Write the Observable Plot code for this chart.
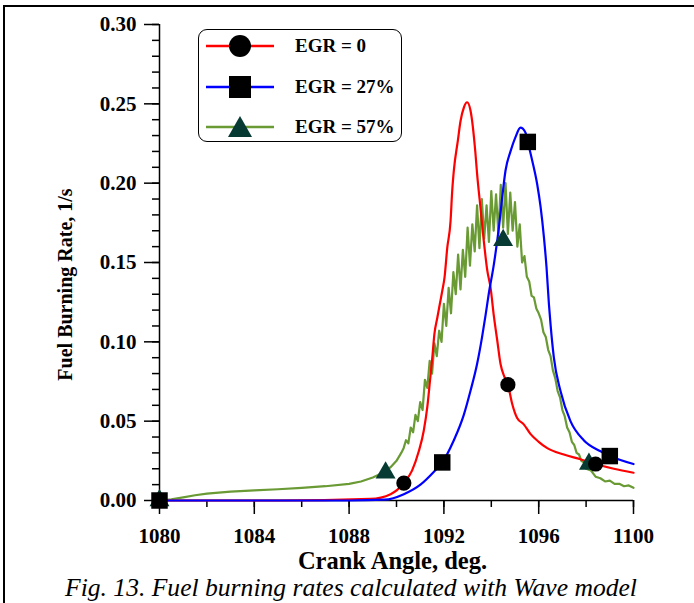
<!DOCTYPE html>
<html><head><meta charset="utf-8">
<script src="https://cdn.jsdelivr.net/npm/d3@7"></script>
<script src="https://cdn.jsdelivr.net/npm/@observablehq/plot@0.6"></script>
<style>
html,body{margin:0;padding:0;background:#fff;}
body{width:694px;height:603px;overflow:hidden;position:relative;font-family:"Liberation Serif","Times New Roman",serif;}
#frame{position:absolute;left:3px;top:5px;width:760px;height:700px;border:2px solid #000;pointer-events:none;}
#chart{position:absolute;left:0;top:0;}
#caption{position:absolute;left:0;top:572px;width:702px;height:31px;line-height:31px;text-align:center;font-style:italic;font-size:25.6px;white-space:nowrap;}
#legend{position:absolute;left:198px;top:29px;width:202px;height:111px;border:1.5px solid #000;border-radius:9px;background:#fff;}
.row{position:absolute;left:0;width:202px;height:40px;}
.row svg{position:absolute;left:0;top:0;}
.row span{position:absolute;left:96px;top:0;line-height:40px;font-size:19px;font-weight:bold;white-space:nowrap;}
</style></head>
<body>
<div id="chart"></div>
<div id="caption">Fig. 13. Fuel burning rates calculated with Wave model</div>
<div id="legend"></div>
<div id="frame"></div>
<script>
// ---- data ----
const seriesNames = ["EGR = 0", "EGR = 27%", "EGR = 57%"];
const seriesColors = ["#ff0000", "#0000ff", "#699a34"];
const markerColors = ["#000000", "#000000", "#063a33"];

const xTicks = [1080, 1084, 1088, 1092, 1096, 1100];
const yTicks = [0, 0.05, 0.10, 0.15, 0.20, 0.25, 0.30];

// EGR = 0 (red)
const redX = [1080, 1085, 1088.9, 1089.75, 1090.31, 1090.66, 1090.94, 1091.15, 1091.3, 1091.41, 1091.51, 1091.6, 1091.72, 1091.83, 1091.93, 1092.03, 1092.14, 1092.28, 1092.35, 1092.42, 1092.59, 1092.7, 1092.85, 1092.98, 1093.12, 1093.33, 1093.4, 1093.54, 1093.68, 1093.83, 1093.97, 1094.11, 1094.25, 1094.39, 1094.55, 1094.7, 1094.88, 1095.09, 1095.37, 1095.65, 1096.0, 1096.36, 1097.06, 1097.76, 1098.4, 1099.17, 1100];
const redY = [0, 0, 0.001, 0.004, 0.011, 0.019, 0.031, 0.044, 0.059, 0.075, 0.090, 0.105, 0.115, 0.124, 0.132, 0.141, 0.159, 0.176, 0.195, 0.208, 0.227, 0.239, 0.248, 0.251, 0.246, 0.219, 0.206, 0.185, 0.164, 0.145, 0.134, 0.116, 0.101, 0.086, 0.078, 0.073, 0.061, 0.052, 0.048, 0.042, 0.037, 0.033, 0.029, 0.026, 0.023, 0.020, 0.0175];
const redMarkX = [1080, 1090.31, 1094.7, 1098.4];
const redMarkY = [0, 0.011, 0.073, 0.023];

// EGR = 27% (blue)
const blueX = [1080, 1088, 1089.5, 1090.31, 1091.01, 1091.57, 1091.93, 1092.42, 1092.84, 1093.12, 1093.4, 1093.61, 1093.76, 1093.89, 1094.11, 1094.32, 1094.46, 1094.6, 1094.81, 1095.02, 1095.23, 1095.44, 1095.54, 1095.73, 1095.94, 1096.08, 1096.22, 1096.33, 1096.43, 1096.5, 1096.64, 1096.92, 1097.34, 1097.9, 1098.61, 1099.0, 1100];
const blueY = [0, 0, 0.0005, 0.004, 0.010, 0.018, 0.024, 0.038, 0.054, 0.069, 0.086, 0.103, 0.117, 0.130, 0.149, 0.172, 0.191, 0.208, 0.220, 0.229, 0.235, 0.232, 0.226, 0.214, 0.199, 0.185, 0.166, 0.147, 0.124, 0.111, 0.090, 0.069, 0.050, 0.038, 0.031, 0.028, 0.023];
const blueMarkX = [1080, 1091.93, 1095.54, 1099.0];
const blueMarkY = [0, 0.024, 0.226, 0.028];

// EGR = 57% (green, noisy)
const greenX = [1080, 1080.5, 1081, 1081.5, 1082, 1082.5, 1083, 1084, 1085, 1086, 1087, 1088, 1088.5, 1089, 1089.5, 1089.75, 1090.0, 1090.2, 1090.3,
  1090.4, 1090.5, 1090.6, 1090.7, 1090.8, 1090.9, 1091.0, 1091.1, 1091.2, 1091.3, 1091.4, 1091.5, 1091.6, 1091.7, 1091.8, 1091.9,
  1092.0, 1092.1, 1092.2, 1092.3, 1092.4, 1092.5, 1092.6, 1092.7, 1092.8, 1092.9, 1093.0, 1093.1, 1093.2, 1093.3, 1093.4, 1093.5,
  1093.6, 1093.7, 1093.8, 1093.9, 1094.0, 1094.1, 1094.2, 1094.3, 1094.4, 1094.5, 1094.6, 1094.7, 1094.8, 1094.9, 1095.0, 1095.1,
  1095.2, 1095.3, 1095.4, 1095.5, 1095.6, 1095.7, 1095.8, 1095.9, 1096.0, 1096.1, 1096.2, 1096.3, 1096.4, 1096.5, 1096.6, 1096.7,
  1096.8, 1096.9, 1097.0, 1097.1, 1097.2, 1097.3, 1097.4, 1097.5, 1097.6, 1097.7, 1097.8, 1097.9, 1098.0, 1098.2, 1098.4, 1098.6,
  1098.8, 1099.0, 1099.2, 1099.4, 1099.6, 1099.8, 1100.0];
const greenY = [0, 0.0008, 0.002, 0.0033, 0.0043, 0.005, 0.0056, 0.0064, 0.0071, 0.008, 0.009, 0.0105, 0.012, 0.0145, 0.018, 0.021, 0.025, 0.030, 0.033,
  0.038, 0.036, 0.046, 0.043, 0.054, 0.050, 0.062, 0.057, 0.076, 0.071, 0.088, 0.080, 0.099, 0.091, 0.107, 0.100,
  0.124, 0.110, 0.134, 0.118, 0.144, 0.130, 0.155, 0.133, 0.158, 0.141, 0.172, 0.148, 0.174, 0.157, 0.186, 0.159,
  0.190, 0.165, 0.186, 0.163, 0.195, 0.170, 0.193, 0.168, 0.199, 0.172, 0.200, 0.168, 0.194, 0.170, 0.188, 0.160,
  0.174, 0.150, 0.154, 0.141, 0.138, 0.129, 0.128, 0.121, 0.118, 0.114, 0.106, 0.103, 0.095, 0.091, 0.082, 0.077,
  0.069, 0.065, 0.057, 0.053, 0.046, 0.043, 0.037, 0.035, 0.030, 0.029, 0.025, 0.024, 0.020, 0.019, 0.015, 0.014,
  0.012, 0.0125, 0.0105, 0.0105, 0.009, 0.0095, 0.008];
const greenMarkX = [1080, 1089.54, 1094.5, 1098.12];
const greenMarkY = [0, 0.0175, 0.164, 0.023];

// ---- build ----
const zip = (xs, ys) => xs.map((x, i) => [x, ys[i]]);
const xMinor = d3.range(1080, 1101, 2);
const yMinor = d3.range(0, 31).map(i => i / 100);
const bold = {fontSize: 21, fontWeight: "bold"};

const chart = Plot.plot({
  width: 694, height: 572,
  marginLeft: 159, marginRight: 61, marginTop: 24, marginBottom: 72,
  x: {domain: [1080, 1100]},
  y: {domain: [0, 0.3]},
  style: {fontFamily: '"Liberation Serif", "Times New Roman", serif', color: "#000", background: "transparent", overflow: "visible"},
  marks: [
    Plot.axisX({ticks: xMinor, tickSize: 7, tickFormat: () => "", strokeWidth: 1.5, label: null}),
    Plot.axisX({ticks: xTicks, tickSize: 14, tickPadding: 14, tickFormat: d => String(d), strokeWidth: 1.5, label: null, ...bold}),
    Plot.axisY({ticks: yMinor, tickSize: 7, tickFormat: () => "", strokeWidth: 1.5, label: null}),
    Plot.axisY({ticks: yTicks, tickSize: 15, tickPadding: 8, tickFormat: d => d.toFixed(2), strokeWidth: 1.5, label: null, ...bold}),
    Plot.ruleX([1080], {strokeWidth: 1.5}),
    Plot.ruleY([0], {strokeWidth: 1.5}),
    Plot.line(zip(greenX, greenY), {stroke: seriesColors[2], strokeWidth: 2.2}),
    Plot.line(zip(redX, redY), {stroke: seriesColors[0], strokeWidth: 2.2, curve: "monotone-x"}),
    Plot.line(zip(blueX, blueY), {stroke: seriesColors[1], strokeWidth: 2.2, curve: "monotone-x"}),
    Plot.dot(zip(greenMarkX, greenMarkY), {symbol: "triangle", r: 7.4, fill: markerColors[2]}),
    Plot.dot(zip(redMarkX, redMarkY), {symbol: "circle", r: 7.6, fill: markerColors[0]}),
    Plot.dot(zip(blueMarkX, blueMarkY), {symbol: "square", r: 9.3, fill: markerColors[1]}),
    Plot.text(["Crank Angle, deg."], {frameAnchor: "bottom", textAnchor: "middle", lineAnchor: "middle", dy: 61, dx: -4, fontSize: 24.5, fontWeight: "bold"}),
    Plot.text(["Fuel Burning Rate, 1/s"], {frameAnchor: "left", textAnchor: "middle", lineAnchor: "middle", dx: -94, dy: 22, rotate: -90, fontSize: 20, fontWeight: "bold"})
  ]
});
document.getElementById("chart").appendChild(chart);

// legend
const legend = document.getElementById("legend");
const symbols = [
  '<circle cx="41" cy="20" r="11" fill="#000"/>',
  '<rect x="30" y="9" width="22" height="22" fill="#000"/>',
  '<polygon points="41,9 53,30 29,30" fill="#063a33"/>'
];
seriesNames.forEach((name, i) => {
  const row = document.createElement("div");
  row.className = "row";
  row.style.top = (i * 40.5 - 4) + "px";
  row.innerHTML = `<svg width="90" height="40"><line x1="7" x2="75" y1="20" y2="20" stroke="${seriesColors[i]}" stroke-width="2.5"/>${symbols[i]}</svg><span>${name}</span>`;
  legend.appendChild(row);
});
</script>
</body></html>
